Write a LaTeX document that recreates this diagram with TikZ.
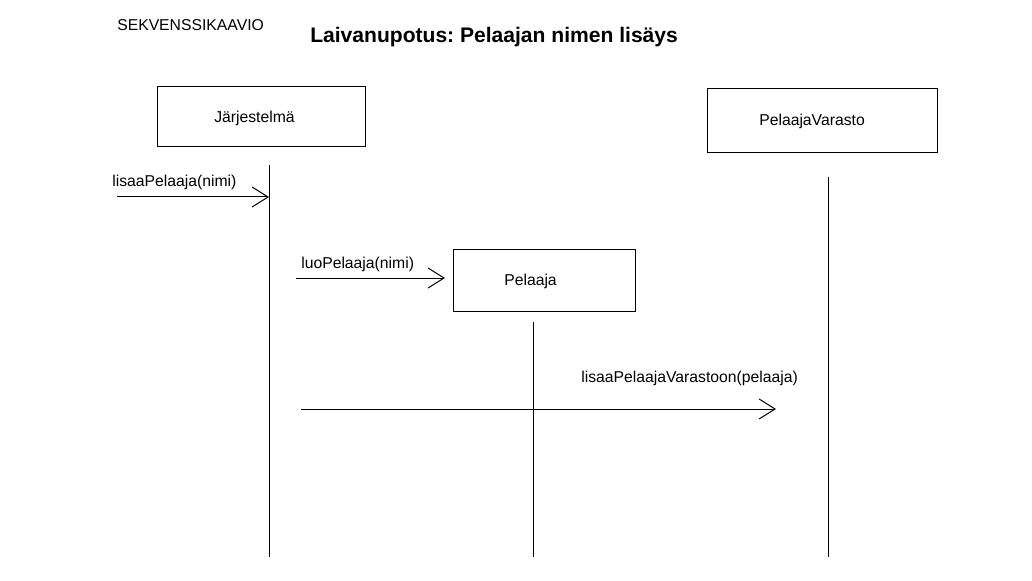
\documentclass[tikz,border=0pt]{standalone}
\usepackage{fontspec}
\setmainfont{Liberation Sans}
\usetikzlibrary{arrows.meta}
\frenchspacing
\begin{document}
\begin{tikzpicture}[x=0.75pt,y=-0.75pt,
  lbl/.style={font=\fontsize{11.8pt}{13pt}\selectfont, inner sep=0pt, anchor=base west},
  obj/.style={draw, line width=0.75pt, inner sep=0pt},
  life/.style={line width=0.75pt},
  msg/.style={line width=0.75pt, -{Straight Barb[length=12pt,width=15pt,line width=0.75pt]}}]
\useasboundingbox[fill=white] (0,0) rectangle (1032,581);
% title
\node[lbl] (kind) at (117,31) {SEKVENSSIKAAVIO};
\node[lbl, font=\fontsize{15.8pt}{18pt}\selectfont\bfseries] (title) at (310,43) {Laivanupotus: Pelaajan nimen lisäys};
% objects
\node[obj, minimum width=208*0.75pt, minimum height=60*0.75pt] (jar) at (261,117) {};
\node[lbl] (jart) at (214,123) {Järjestelmä};
\node[obj, minimum width=230*0.75pt, minimum height=64*0.75pt] (var) at (822,121) {};
\node[lbl] (vart) at (759,126) {PelaajaVarasto};
\node[obj, minimum width=182*0.75pt, minimum height=62*0.75pt] (pel) at (544,280) {};
\node[lbl] (pelt) at (504,285) {Pelaaja};
% lifelines
\coordinate (jtop) at (269,165); \coordinate (jbot) at (269,557);
\coordinate (vtop) at (828,177); \coordinate (vbot) at (828,557);
\coordinate (ptop) at (533,322); \coordinate (pbot) at (533,557);
\draw[life] (jtop) -- (jbot);
\draw[life] (vtop) -- (vbot);
\draw[life] (ptop) -- (pbot);
% messages
\coordinate (m1s) at (117,197); \coordinate (m1e) at (269,197);
\draw[msg] (m1s) -- (m1e);
\node[lbl] (m1l) at (112,187) {lisaaPelaaja(nimi)};
\coordinate (m2s) at (296,278); \coordinate (m2e) at (445,278);
\draw[msg] (m2s) -- (m2e);
\node[lbl] (m2l) at (301,268) {luoPelaaja(nimi)};
\coordinate (m3s) at (301,409); \coordinate (m3e) at (776,409);
\draw[msg] (m3s) -- (m3e);
\node[lbl] (m3l) at (581,382) {lisaaPelaajaVarastoon(pelaaja)};
\end{tikzpicture}
\end{document}
